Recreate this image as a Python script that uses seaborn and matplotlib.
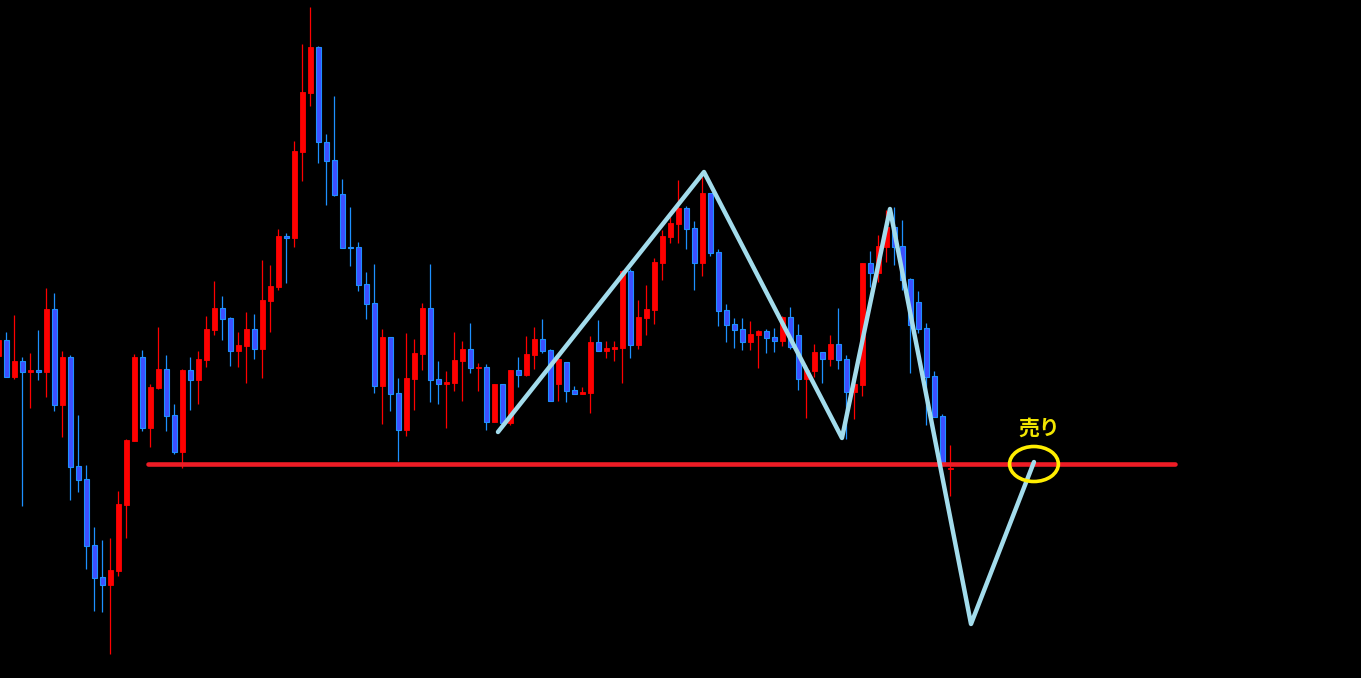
import numpy as np
import pandas as pd
import seaborn as sns
import matplotlib.pyplot as plt
from matplotlib.patches import Ellipse

# candle data (arbitrary price units, no axis is shown)
opens = [322, 338, 301, 317, 306, 308, 306, 369, 273, 321,
         212, 199, 133, 101, 93, 107, 173, 237, 321, 250,
         290, 309, 263, 226, 308, 298, 318, 348, 370, 360,
         327, 332, 349, 329, 377, 391, 442, 440, 526, 585,
         631, 536, 518, 484, 431, 431, 394, 375, 292, 341,
         285, 248, 299, 324, 370, 299, 294, 295, 317, 329,
         310, 311, 256, 294, 255, 308, 303, 323, 339, 328,
         294, 316, 288, 284, 285, 336, 327, 329, 330, 407,
         333, 360, 368, 415, 441, 454, 470, 450, 415, 485,
         426, 368, 354, 349, 336, 343, 347, 341, 337, 361,
         343, 299, 307, 326, 319, 334, 319, 286, 293, 415,
         405, 431, 451, 432, 399, 376, 350, 302, 262, 209]
highs = [340, 346, 363, 321, 325, 348, 390, 385, 327, 323,
         263, 213, 151, 138, 140, 187, 239, 324, 328, 294,
         351, 323, 274, 309, 321, 327, 362, 397, 382, 361,
         346, 366, 364, 418, 413, 449, 445, 537, 634, 671,
         632, 544, 582, 499, 471, 436, 406, 414, 349, 341,
         300, 345, 339, 375, 414, 317, 307, 346, 337, 355,
         315, 314, 294, 294, 308, 321, 342, 351, 359, 329,
         321, 316, 292, 291, 342, 358, 337, 337, 408, 409,
         378, 393, 420, 448, 461, 498, 472, 457, 501, 485,
         429, 374, 360, 360, 357, 348, 349, 350, 362, 371,
         354, 313, 334, 326, 343, 370, 323, 298, 415, 427,
         443, 468, 471, 458, 400, 387, 355, 307, 264, 233]
lows = [320, 301, 299, 172, 270, 298, 281, 267, 241, 178,
        186, 109, 67, 66, 24, 102, 140, 237, 247, 231,
        289, 247, 224, 210, 268, 274, 311, 343, 338, 312,
        311, 295, 319, 300, 346, 388, 395, 431, 497, 572,
        515, 473, 482, 430, 412, 387, 359, 285, 254, 267,
        217, 242, 268, 308, 276, 274, 250, 287, 277, 305,
        287, 248, 256, 255, 253, 291, 302, 309, 325, 277,
        277, 276, 284, 284, 265, 327, 320, 317, 295, 320,
        329, 343, 354, 398, 435, 435, 429, 388, 402, 422,
        352, 336, 330, 328, 328, 310, 325, 326, 332, 329,
        288, 260, 301, 295, 312, 309, 239, 259, 282, 391,
        396, 416, 413, 388, 305, 345, 253, 261, 216, 182]
closes = [338, 301, 317, 306, 308, 306, 369, 273, 321, 211,
          198, 132, 100, 93, 108, 174, 238, 321, 250, 291,
          309, 262, 226, 308, 298, 319, 349, 370, 359, 327,
          333, 349, 329, 378, 392, 442, 440, 527, 586, 631,
          536, 517, 483, 430, 430, 393, 374, 292, 341, 284,
          248, 300, 325, 370, 298, 294, 296, 318, 329, 310,
          311, 256, 294, 255, 308, 303, 324, 339, 327, 277,
          319, 287, 284, 286, 336, 327, 330, 331, 407, 333,
          361, 369, 416, 442, 455, 470, 449, 415, 485, 425,
          367, 353, 348, 336, 344, 347, 340, 337, 361, 331,
          299, 308, 326, 319, 334, 318, 286, 294, 415, 405,
          432, 451, 431, 398, 353, 349, 301, 261, 216, 210]

# pattern overlay: neckline, zigzag of the double top, sell mark
neck_price = 214
neck_start, neck_end = 18.7, 147.1
zig_idx = [62.46, 88.21, 105.46, 111.46, 121.59, 129.46]
zig_price = [246, 506, 240, 469, 54, 216]
sell_idx, sell_price = 129.46, 214
sell_label = '売り'

df = pd.DataFrame({'open': opens, 'high': highs, 'low': lows, 'close': closes})
df['idx'] = np.arange(len(df))
df['up'] = df['close'] >= df['open']

sns.set_style('dark', {'axes.facecolor': 'black', 'figure.facecolor': 'black'})
plt.rcParams['font.family'] = ['Noto Sans CJK JP', 'DejaVu Sans']

fig = plt.figure(figsize=(13.61, 6.78), dpi=100)
ax = fig.add_axes([0, 0, 1, 1])
ax.set_facecolor('black')

red = '#ff0000'
blue_edge = '#1e90ff'
blue_fill = '#3d4fff'

up = df[df['up']]
dn = df[~df['up']]
# wicks
ax.vlines(up['idx'], up['low'], up['high'], color=red, lw=0.9, zorder=2)
ax.vlines(dn['idx'], dn['low'], dn['high'], color=blue_edge, lw=0.9, zorder=2)
# bodies
ax.bar(up['idx'], (up['close'] - up['open']).clip(lower=1), bottom=up['open'],
       width=0.6, color=red, edgecolor=red, lw=0.6, zorder=3)
ax.bar(dn['idx'], (dn['open'] - dn['close']).clip(lower=1), bottom=dn['close'],
       width=0.6, color=blue_fill, edgecolor=blue_edge, lw=0.8, zorder=3)

# neckline
neck = pd.DataFrame({'x': [neck_start, neck_end], 'y': [neck_price, neck_price]})
sns.lineplot(data=neck, x='x', y='y', ax=ax, color='#ee1c25', lw=3.3,
             solid_capstyle='round', zorder=4)

# zigzag
zig = pd.DataFrame({'x': zig_idx, 'y': zig_price})
sns.lineplot(data=zig, x='x', y='y', ax=ax, color='#a3dcec', lw=3.2, sort=False,
             solid_capstyle='round', solid_joinstyle='round', zorder=5)

# sell circle and label
ax.add_patch(Ellipse((sell_idx, sell_price), width=6.1, height=35,
                     fill=False, edgecolor='#ffee00', lw=2.6, zorder=6))
ax.text(sell_idx + 0.7, sell_price + 36, sell_label, color='#f2e600',
        fontsize=15, fontweight='bold', ha='center', va='center', zorder=7)

ax.set_xlim(0.2125, 170.34)
ax.set_ylim(0, 678)
ax.set_xlabel('')
ax.set_ylabel('')
ax.set_xticks([])
ax.set_yticks([])
for s in ax.spines.values():
    s.set_visible(False)
if ax.get_legend() is not None:
    ax.get_legend().remove()

fig.savefig('out.png', dpi=100, facecolor='black')
